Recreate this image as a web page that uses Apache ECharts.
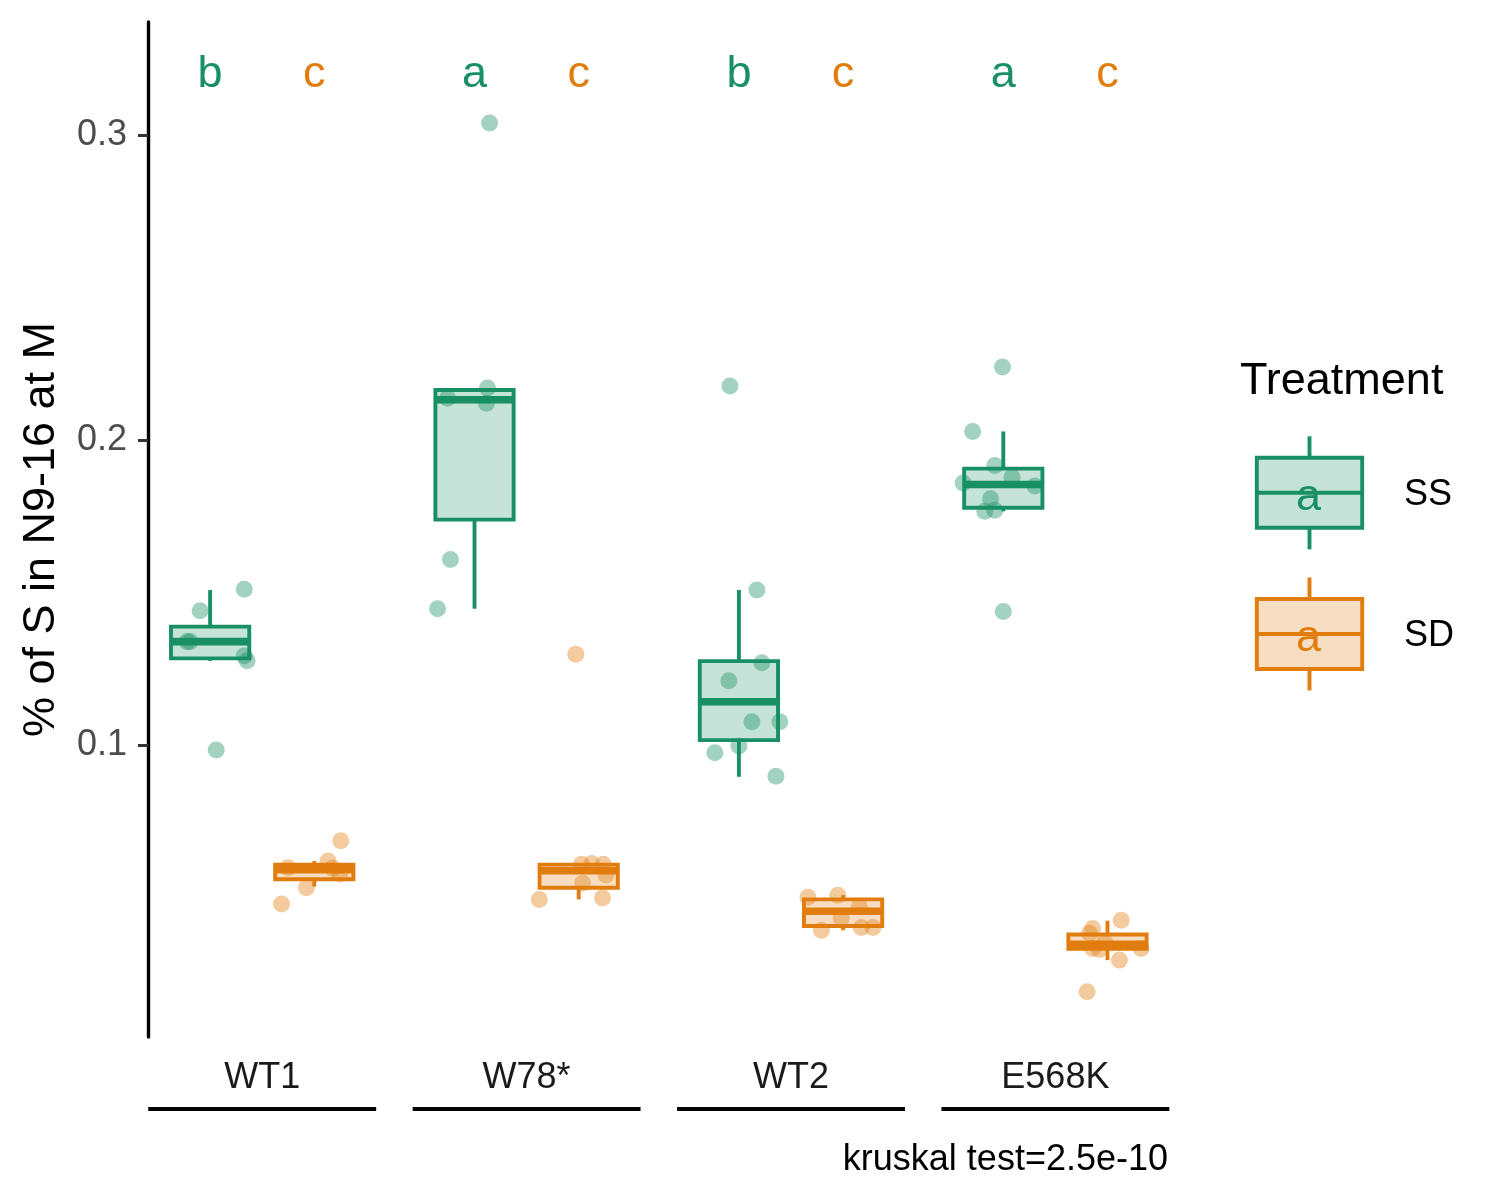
<!DOCTYPE html>
<html><head><meta charset="utf-8">
<script src="https://cdn.jsdelivr.net/npm/echarts@6/dist/echarts.min.js"></script>
<style>html,body{margin:0;padding:0;background:#fff}#c{width:1500px;height:1200px}</style>
</head><body><div id="c"></div>
<script>
// ---------------- data ----------------
const categories = ['WT1', 'W78*', 'WT2', 'E568K'];
const treatments = ['SS', 'SD'];
// box statistics: [lower whisker, Q1, median, Q3, upper whisker]
const boxSS = [
  [0.1276, 0.1284, 0.1339, 0.1388, 0.1508],
  [0.1447, 0.1739, 0.2132, 0.2164, 0.2170],
  [0.0896, 0.1016, 0.1142, 0.1275, 0.1508],
  [0.1766, 0.1778, 0.1854, 0.1906, 0.2028]
];
const boxSD = [
  [0.0536, 0.0560, 0.0591, 0.0608, 0.0620],
  [0.0494, 0.0532, 0.0588, 0.0608, 0.0612],
  [0.0393, 0.0407, 0.0455, 0.0494, 0.0508],
  [0.0295, 0.0332, 0.0347, 0.0379, 0.0424]
];
// individual observations
const pointsSS = [
  [0.1511, 0.1440, 0.1339, 0.1339, 0.1292, 0.1276, 0.0984],
  [0.3039, 0.2170, 0.2137, 0.2120, 0.1608, 0.1447],
  [0.2177, 0.1508, 0.1270, 0.1211, 0.1076, 0.1076, 0.0997, 0.0975, 0.0898],
  [0.2239, 0.2028, 0.1916, 0.1878, 0.1859, 0.1849, 0.1807, 0.1770, 0.1766, 0.1438]
];
const pointsSD = [
  [0.0686, 0.0620, 0.0598, 0.0596, 0.0577, 0.0532, 0.0479],
  [0.1298, 0.0612, 0.0609, 0.0609, 0.0574, 0.0547, 0.0499, 0.0494],
  [0.0508, 0.0501, 0.0470, 0.0432, 0.0402, 0.0402, 0.0393],
  [0.0426, 0.0399, 0.0383, 0.0355, 0.0333, 0.0330, 0.0333, 0.0295, 0.0191]
];
// horizontal jitter of each observation (category units)
const jitterSS = [
  [0.129, -0.038, -0.087, -0.076, 0.129, 0.140, 0.023],
  [0.057, 0.049, -0.102, 0.045, -0.091, -0.140],
  [-0.034, 0.068, 0.087, -0.038, 0.049, 0.155, 0.000, -0.091, 0.140],
  [-0.003, -0.116, -0.032, 0.033, -0.152, 0.119, -0.048, -0.032, -0.070, 0.000]
];
const jitterSD = [
  [0.100, 0.052, -0.099, 0.069, 0.096, -0.030, -0.124],
  [-0.011, 0.049, 0.011, 0.093, 0.103, 0.015, 0.090, -0.149],
  [-0.020, -0.133, 0.062, -0.007, 0.069, 0.113, -0.082],
  [0.052, -0.056, -0.068, -0.011, -0.056, -0.030, 0.127, 0.045, -0.077]
];
const lettersSS = ['b', 'a', 'b', 'a'];
const lettersSD = ['c', 'c', 'c', 'c'];
const yTicks = [0.1, 0.2, 0.3];
const yTitle = '% of S in N9-16 at M';
const legendTitle = 'Treatment';
const kruskalText = 'kruskal test=2.5e-10';

// ---------------- styling constants ----------------
const FONT = '"Liberation Sans", Arial, Helvetica, sans-serif';
const GREEN = '#198F65', ORANGE = '#E17D0F';
const GREEN_FILL = 'rgba(25,143,101,0.25)', ORANGE_FILL = 'rgba(225,125,15,0.25)';
const GREEN_PT = 'rgba(25,143,101,0.5)', ORANGE_PT = 'rgba(225,125,15,0.5)';
const DODGE = 0.197, BOX_W = 0.296, HALF_STRIP = 0.431;
const Y_MIN = 0.0043, Y_MAX = 0.337, LETTER_Y = 0.3197;
const LW = 3.9, MED_LW = 7.6;

function boxRender(stroke, fill) {
  return function (params, api) {
    const x = api.value(0);
    const lo = api.coord([x, api.value(1)]);
    const q1 = api.coord([x, api.value(2)]);
    const md = api.coord([x, api.value(3)]);
    const q3 = api.coord([x, api.value(4)]);
    const hi = api.coord([x, api.value(5)]);
    const w = api.size([BOX_W, 0])[0];
    const cx = lo[0];
    return {
      type: 'group', children: [
        { type: 'line', shape: { x1: cx, y1: hi[1], x2: cx, y2: q3[1] }, style: { stroke: stroke, lineWidth: LW } },
        { type: 'line', shape: { x1: cx, y1: q1[1], x2: cx, y2: lo[1] }, style: { stroke: stroke, lineWidth: LW } },
        { type: 'rect', shape: { x: cx - w / 2, y: q3[1], width: w, height: q1[1] - q3[1] }, style: { fill: fill, stroke: stroke, lineWidth: LW } },
        { type: 'line', shape: { x1: cx - w / 2, y1: md[1], x2: cx + w / 2, y2: md[1] }, style: { stroke: stroke, lineWidth: MED_LW } }
      ]
    };
  };
}

function pointData(points, jitter, offset) {
  const out = [];
  points.forEach((arr, i) => arr.forEach((v, j) => out.push([i + offset + jitter[i][j], v])));
  return out;
}

function letterRender(letters, color) {
  return function (params, api) {
    const p = api.coord([api.value(0), api.value(1)]);
    return { type: 'text', x: p[0], y: p[1], style: { text: letters[params.dataIndex], fill: color, font: '45px ' + FONT, align: 'center', verticalAlign: 'middle' } };
  };
}

const chart = echarts.init(document.getElementById('c'), null, { renderer: 'canvas' });

function legendKey(y0, stroke, fill) {
  const x0 = 1256.8, w = 105.4, h = 70;
  const cx = x0 + w / 2;
  return [
    { type: 'line', shape: { x1: cx, y1: y0 - 21.5, x2: cx, y2: y0 }, style: { stroke: stroke, lineWidth: LW } },
    { type: 'line', shape: { x1: cx, y1: y0 + h, x2: cx, y2: y0 + h + 21.5 }, style: { stroke: stroke, lineWidth: LW } },
    { type: 'rect', shape: { x: x0, y: y0, width: w, height: h }, style: { fill: fill, stroke: stroke, lineWidth: LW } },
    { type: 'line', shape: { x1: x0, y1: y0 + h / 2, x2: x0 + w, y2: y0 + h / 2 }, style: { stroke: stroke, lineWidth: LW } },
    { type: 'text', x: cx - 1, y: y0 + h / 2 + 5, style: { text: 'a', fill: stroke, font: '45px ' + FONT, align: 'center', verticalAlign: 'middle' } }
  ];
}

const option = {
  animation: false,
  backgroundColor: '#ffffff',
  grid: { left: 148, top: 22, width: 1021.6, height: 1015 },
  xAxis: {
    type: 'value', min: -0.432, max: 3.432,
    splitLine: { show: false }, axisLine: { show: false }, axisTick: { show: false },
    axisLabel: {
      customValues: [0, 1, 2, 3],
      formatter: v => categories[Math.round(v)],
      fontFamily: FONT, fontSize: 36, color: '#1A1A1A', margin: 41, verticalAlign: 'middle'
    }
  },
  yAxis: {
    type: 'value', min: Y_MIN, max: Y_MAX,
    name: yTitle, nameLocation: 'middle', nameGap: 84, nameRotate: 90,
    nameTextStyle: { fontFamily: FONT, fontSize: 45, color: '#000' },
    splitLine: { show: false },
    axisLine: { show: true, onZero: false, lineStyle: { color: '#000', width: 3.4 } },
    axisTick: { show: true, customValues: yTicks, length: 10, lineStyle: { color: '#333', width: 3 } },
    axisLabel: { customValues: yTicks, formatter: v => v.toFixed(1), fontFamily: FONT, fontSize: 36, color: '#4D4D4D', margin: 21, padding: [10, 0, 0, 0] }
  },
  series: [
    { name: 'SS box', type: 'custom', renderItem: boxRender(GREEN, GREEN_FILL), data: boxSS.map((b, i) => [i - DODGE].concat(b)), silent: true, z: 2 },
    { name: 'SD box', type: 'custom', renderItem: boxRender(ORANGE, ORANGE_FILL), data: boxSD.map((b, i) => [i + DODGE].concat(b)), silent: true, z: 2 },
    { name: 'SS', type: 'scatter', data: pointData(pointsSS, jitterSS, -DODGE), symbolSize: 17, itemStyle: { color: GREEN_PT }, silent: true, z: 3 },
    { name: 'SD', type: 'scatter', data: pointData(pointsSD, jitterSD, DODGE), symbolSize: 17, itemStyle: { color: ORANGE_PT }, silent: true, z: 3 },
    { name: 'SS letters', type: 'custom', renderItem: letterRender(lettersSS, GREEN), data: lettersSS.map((l, i) => [i - DODGE, LETTER_Y]), silent: true, z: 4 },
    { name: 'SD letters', type: 'custom', renderItem: letterRender(lettersSD, ORANGE), data: lettersSD.map((l, i) => [i + DODGE, LETTER_Y]), silent: true, z: 4 },
    {
      name: 'strips', type: 'custom', clip: false, silent: true,
      data: categories.map((c, i) => [i]),
      renderItem: function (params, api) {
        const i = api.value(0);
        const a = api.coord([i - HALF_STRIP, Y_MIN]);
        const b = api.coord([i + HALF_STRIP, Y_MIN]);
        return { type: 'line', shape: { x1: a[0], y1: a[1] + 72, x2: b[0], y2: b[1] + 72 }, style: { stroke: '#000', lineWidth: 4 } };
      }
    }
  ],
  graphic: [
    { type: 'text', right: 332, top: 1142, style: { text: kruskalText, font: '36px ' + FONT, fill: '#000' } },
    { type: 'text', left: 1240, top: 359, style: { text: legendTitle, font: '45px ' + FONT, fill: '#000' } },
    { type: 'group', children: legendKey(457.8, GREEN, GREEN_FILL) },
    { type: 'group', children: legendKey(599, ORANGE, ORANGE_FILL) },
    { type: 'text', left: 1404, top: 477, style: { text: treatments[0], font: '36px ' + FONT, fill: '#000' } },
    { type: 'text', left: 1404, top: 618, style: { text: treatments[1], font: '36px ' + FONT, fill: '#000' } }
  ]
};
chart.setOption(option);
</script>
</body></html>
